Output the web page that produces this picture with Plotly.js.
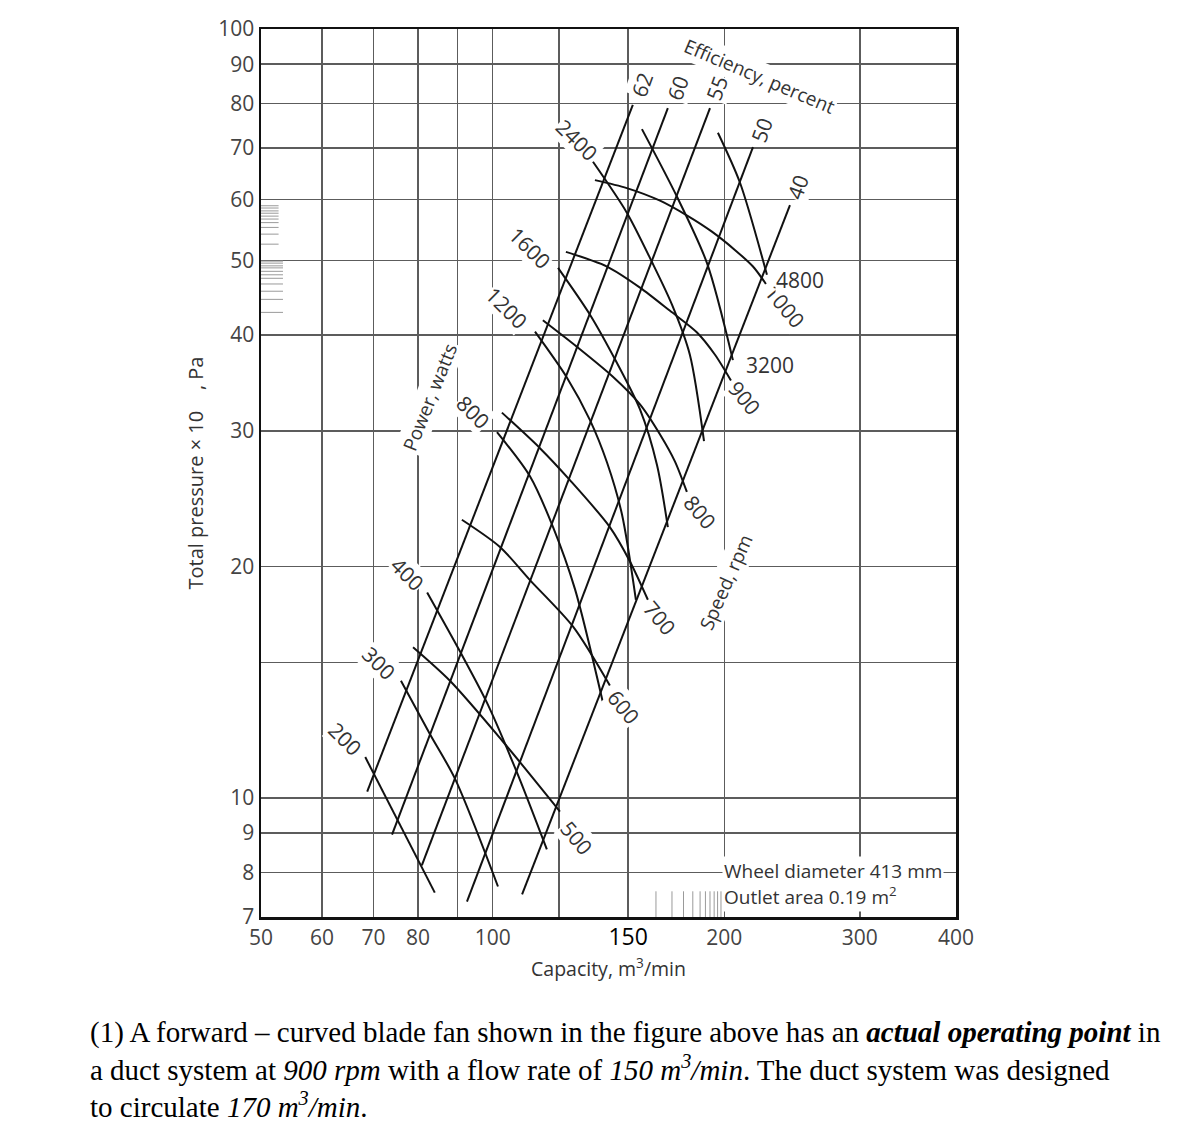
<!DOCTYPE html>
<html>
<head>
<meta charset="utf-8">
<script src="https://cdn.plot.ly/plotly-3.0.1.min.js"></script>
<style>
  html, body { margin: 0; padding: 0; background: #fff; }
  #chart { width: 1192px; height: 1132px; }
</style>
</head>
<body>
<div id="chart"></div>
<script>
// Axis ticks: capacity (m³/min) and total pressure (×10 Pa)
const capacityTicks = [50, 60, 70, 80, 90, 100, 122, 150, 200, 300, 400];
const capacityTickText = ['50', '60', '70', '80', '', '100', '', '150', '200', '300', '400'];
const pressureTicks = [7, 8, 9, 10, 15, 20, 30, 40, 50, 60, 70, 80, 90, 100];
const pressureTickText = ['7', '8', '9', '10', '', '20', '30', '40', '50', '60', '70', '80', '90', '100'];

// Constant-efficiency lines, percent (capacity / pressure at both ends)
const effLevels = [62, 60, 55, 50, 40];
const effQ = [[68.7, 152.1], [74.0, 168.9], [80.9, 191.6], [92.6, 217.9], [109.2, 243.4]];
const effP = [[10.19, 79.7], [8.96, 78.9], [8.17, 78.9], [7.33, 70.2], [7.49, 59.0]];

// Fan speed curves, rpm
const speedLevels = [500, 600, 700, 800, 900, 1000];
const speedQ = [
  [78.8, 88.0, 103.1, 122.3],
  [91.2, 102.2, 111.8, 127.2, 142.0],
  [102.8, 115.2, 126.0, 142.0, 150.8, 159.1],
  [116.2, 128.7, 143.3, 155.4, 165.0, 172.5, 178.8],
  [124.5, 140.8, 155.4, 170.0, 184.3, 194.5, 204.0],
  [135.8, 149.4, 165.0, 179.4, 192.7, 206.4, 217.9, 226.5]
];
const speedP = [
  [15.7, 14.2, 11.84, 9.6],
  [23.0, 21.2, 19.2, 16.7, 14.0],
  [31.7, 28.5, 25.9, 22.5, 20.3, 18.1],
  [41.8, 38.6, 35.3, 32.5, 29.7, 27.4, 25.0],
  [51.3, 49.1, 46.1, 43.0, 40.3, 37.7, 34.9],
  [63.6, 62.1, 59.8, 57.1, 54.5, 51.6, 49.1, 46.6]
];

// Constant shaft-power lines, watts
const powerLevels = [200, 300, 400, 800, 1200, 1600, 2400, 3200, 4800];
const powerQ = [
  [68.3, 84.1],
  [76.0, 82.9, 89.3, 101.6],
  [82.2, 90.7, 98.3, 107.5, 117.6],
  [101.3, 111.8, 119.8, 127.9, 139.1],
  [113.5, 124.9, 133.8, 140.8, 147.2, 153.5],
  [121.6, 133.8, 145.0, 155.4, 163.5, 168.9],
  [135.0, 149.4, 161.0, 171.0, 180.4, 188.2],
  [156.3, 173.6, 189.9, 205.2],
  [196.2, 209.6, 227.2]
];
const powerP = [
  [11.3, 7.53],
  [14.2, 12.1, 10.6, 7.67],
  [18.5, 15.5, 13.3, 10.8, 8.57],
  [29.9, 26.2, 22.5, 18.7, 13.3],
  [40.4, 35.2, 31.0, 27.3, 23.4, 18.1],
  [48.9, 42.5, 36.8, 32.0, 27.1, 22.5],
  [67.2, 57.7, 49.8, 43.8, 37.7, 29.1],
  [74.1, 60.5, 49.6, 37.1],
  [73.3, 63.1, 47.9]
];

// Short scale marks along the left and bottom edges
const pressureRugA = [58.9, 58.5, 58.0, 57.6, 57.1, 56.6, 56.0, 55.2, 54.1, 52.5];
const pressureRugB = [49.9, 49.6, 49.2, 48.9, 48.4, 47.9, 47.4, 46.6, 45.6, 44.5, 42.8];
const capacityRug = [163, 171, 177, 182, 186, 189, 191.6, 194, 196, 198];

const LG = Math.log10;
const INK = '#111';
const traces = [];

function addLine(q, p, shape) {
  traces.push({
    type: 'scatter', mode: 'lines', x: q, y: p, hoverinfo: 'skip',
    line: { color: INK, width: 2, shape: shape, smoothing: 0.8 }
  });
}

effQ.forEach((q, i) => addLine(q, effP[i], 'linear'));
speedQ.forEach((q, i) => addLine(q, speedP[i], 'spline'));
powerQ.forEach((q, i) => addLine(q, powerP[i], 'spline'));

// scale marks drawn as short segments
function rug(xs, ys) {
  traces.push({
    type: 'scatter', mode: 'lines', x: xs, y: ys, hoverinfo: 'skip',
    line: { color: '#9a9a9a', width: 1 }
  });
}
(function () {
  let xs = [], ys = [];
  pressureRugA.forEach(p => { xs.push(50, 52.7, null); ys.push(p, p, null); });
  pressureRugB.forEach(p => { xs.push(50, 53.4, null); ys.push(p, p, null); });
  rug(xs, ys);
  xs = []; ys = [];
  capacityRug.forEach(q => { xs.push(q, q, null); ys.push(7, 7.56, null); });
  rug(xs, ys);
})();

// ---------- labels ----------
const annotations = [];
const numFont = { family: '"Open Sans", sans-serif', size: 21, color: '#333' };

function lineLabel(q, p, text, angle, dx, dy, anchor) {
  annotations.push({
    x: LG(q), y: LG(p), xref: 'x', yref: 'y', text: text, showarrow: false,
    textangle: angle, xshift: dx, yshift: dy, xanchor: anchor || 'center', yanchor: 'middle',
    font: numFont, bgcolor: '#fff', borderpad: 0
  });
}

// efficiency values at the upper ends
const effShift = [[9, 20], [10, 20], [7, 20], [9, 17], [8, 18]];
effLevels.forEach((v, i) => {
  const n = effQ[i].length - 1;
  lineLabel(effQ[i][n], effP[i][n], String(v), -70, effShift[i][0], effShift[i][1]);
});

// speed values at the lower ends
const speedShift = [[17, -26], [14, -21], [12, -18], [13, -20], [14, -17], [19, -22]];
speedLevels.forEach((v, i) => {
  const n = speedQ[i].length - 1;
  lineLabel(speedQ[i][n], speedP[i][n], String(v), 50, speedShift[i][0], speedShift[i][1]);
});

// power values: upper ends for the lower lines, lower ends for the two highest
const powerShift = [[-20, 18], [-22, 18], [-20, 18], [-24, 20], [-28, 24], [-28, 20], [-16, 22]];
powerLevels.forEach((v, i) => {
  if (i < 7) {
    lineLabel(powerQ[i][0], powerP[i][0], String(v), 45, powerShift[i][0], powerShift[i][1]);
  } else {
    const n = powerQ[i].length - 1;
    lineLabel(powerQ[i][n], powerP[i][n], String(v), 0, i === 7 ? 12 : 8, -5, 'left');
  }
});

function paperText(px, py, text, angle, anchor, size) {
  annotations.push({
    x: (px - 261) / 695, y: (917 - py) / 888, xref: 'paper', yref: 'paper',
    text: text, showarrow: false, textangle: angle, xanchor: anchor || 'center', yanchor: 'middle',
    font: { family: '"Open Sans", sans-serif', size: size || 19, color: '#333' },
    bgcolor: '#fff', borderpad: 1
  });
}
paperText(759, 76, 'Efficiency, percent', 23);
paperText(430, 397, 'Power, watts', -68);
paperText(726, 582, 'Speed, rpm', -66);
paperText(722, 871, 'Wheel diameter 413 mm', 0, 'left');
paperText(722, 896, 'Outlet area 0.19 m<sup>2</sup>', 0, 'left');

// problem statement under the chart
annotations.push({
  x: (88 - 261) / 695, y: (917 - 1014) / 888, xref: 'paper', yref: 'paper',
  xanchor: 'left', yanchor: 'top', align: 'left', showarrow: false,
  font: { family: '"Liberation Serif", "Times New Roman", serif', size: 29, color: '#000' },
  text: '(1) A forward – curved blade fan shown in the figure above has an <b><i>actual operating point</i></b> in<br>' +
        'a duct system at <i>900 rpm</i> with a flow rate of <i>150 m<sup>3</sup>/min</i>. The duct system was designed<br>' +
        'to circulate <i>170 m<sup>3</sup>/min</i>.'
});

const ticklabel = capacityTickText.map(t => t === '150' ? '<span style="color:#000;font-size:23px">150</span>' : t);

const layout = {
  width: 1192, height: 1132,
  margin: { l: 261, r: 236, t: 29, b: 215, pad: 0 },
  paper_bgcolor: '#fff', plot_bgcolor: '#fff',
  showlegend: false,
  font: { family: '"Open Sans", sans-serif', color: '#333', size: 19 },
  xaxis: {
    type: 'log', range: [LG(50), LG(400)], tickmode: 'array',
    tickvals: capacityTicks, ticktext: ticklabel,
    showgrid: true, gridcolor: '#5c5c5c', gridwidth: 1.4, zeroline: false,
    showline: true, mirror: true, linecolor: INK, linewidth: 2.5, ticks: '',
    tickfont: { size: 21, color: '#444' },
    title: { text: 'Capacity, m<sup>3</sup>/min', font: { size: 19.5, color: '#333' }, standoff: 12 }
  },
  yaxis: {
    type: 'log', range: [LG(7), LG(100)], tickmode: 'array',
    tickvals: pressureTicks, ticktext: pressureTickText,
    showgrid: true, gridcolor: '#5c5c5c', gridwidth: 1.4, zeroline: false,
    showline: true, mirror: true, linecolor: INK, linewidth: 2.5, ticks: '',
    tickfont: { size: 21, color: '#444' },
    title: { text: 'Total pressure × 10\u00a0\u00a0\u00a0\u00a0, Pa', font: { size: 20, color: '#333' }, standoff: 10 }
  },
  annotations: annotations
};

Plotly.newPlot('chart', traces, layout, { staticPlot: true, displayModeBar: false });
</script>
</body>
</html>
